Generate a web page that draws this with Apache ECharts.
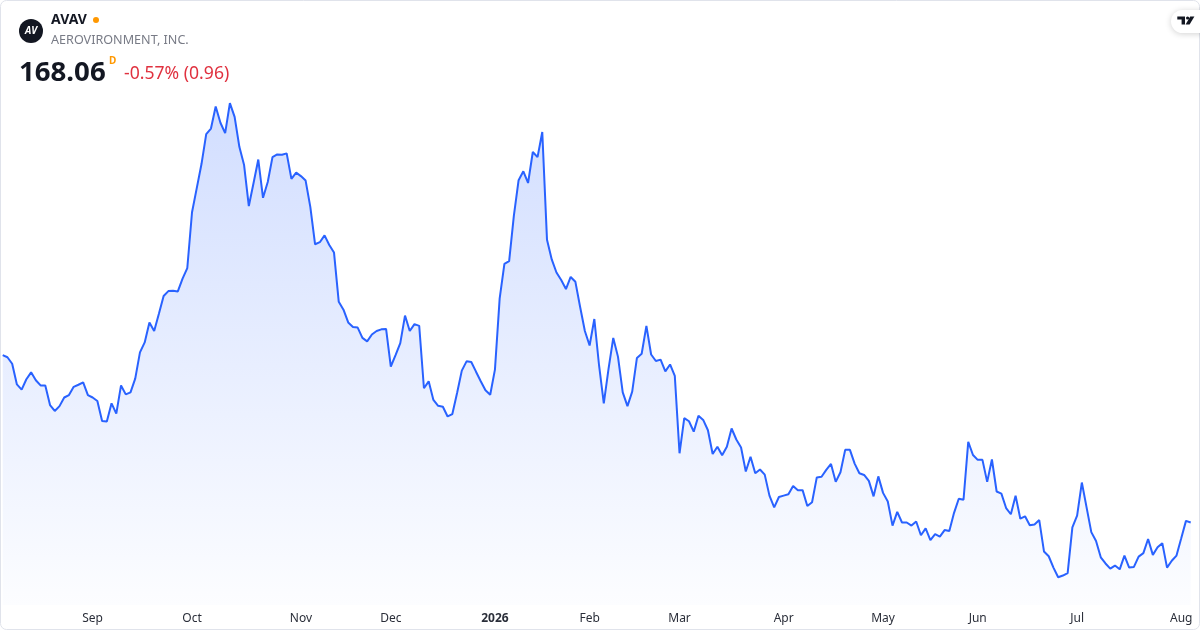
<!DOCTYPE html>
<html><head><meta charset="utf-8">
<script src="https://cdn.jsdelivr.net/npm/echarts@6/dist/echarts.min.js"></script>
<style>html,body{margin:0;padding:0;background:#fff}#c{width:1200px;height:630px}</style>
</head><body><div id="c"></div>
<script>
// Daily closes, one small array per month
const pricesAug2025 = [267.27,266.05,262.17,249.92,246.86,252.98,257.07,252.37,249.31,249.31,237.67,234.20,237.06,242.16,243.59,248.49,249.72,251.15,243.59];
const pricesSep2025 = [242.16,240.12,228.28,227.87,238.69,232.57,249.31,244.00,245.23,253.39,268.91,274.83,286.67,281.56,291.77,302.38,305.24,305.45,305.04,312.59,318.92];
const pricesOct2025 = [351.99,366.28,380.57,398.33,401.60,414.66,405.07,398.94,416.70,408.54,390.78,379.96,355.66,369.34,383.22,360.56,369.95,384.65,386.29,386.08,386.90,371.79,375.47];
const pricesNov2025 = [373.42,370.77,355.05,333.01,334.23,338.31,332.60,328.11,298.91,294.22,286.67,284.01,283.60,277.48,275.44,279.52,281.56,282.58,282.79];
const pricesDec2025 = [260.54,267.27,274.42,290.75,281.56,285.64,284.62,247.67,251.76,240.73,237.26,236.65,230.94,232.36,244.82,258.09,263.60,263.19,257.47,251.76,246.45,243.80];
const pricesJan2026 = [258.70,300.96,321.37,323.00,349.95,370.98,376.28,369.34,387.71,384.65,399.55,335.66,324.02,316.27,311.77,306.47,313.61,310.75,295.85,281.56];
const pricesFeb2026 = [272.99,288.71,261.15,238.69,259.11,277.48,266.25,245.23,237.06,245.63,265.64,268.09,284.62,267.68,263.80,264.62,257.68,261.76,255.02];
const pricesMar2026 = [209.09,229.91,228.08,221.95,231.34,228.89,222.77,208.68,212.97,207.87,212.97,223.79,217.26,212.56,198.27,207.05,197.25,199.50,196.44,183.98,177.04,183.17];
const pricesApr2026 = [183.98,184.80,189.70,187.25,187.25,177.86,180.10,194.80,195.21,199.29,202.76,192.15,197.86,211.13,211.13,202.97,197.25,196.23,192.76,183.57,195.41];
const pricesMay2026 = [185.62,180.51,166.22,174.39,168.06,168.06,166.22,168.67,160.51,164.59,157.65,161.12,159.69,163.57,162.96,173.78,182.15,181.53,215.83,208.07];
const pricesJun2026 = [205.21,205.21,192.15,205.42,186.43,185.21,176.63,172.96,183.98,170.31,171.73,166.43,166.84,169.49,150.91,148.05,141.32,135.60,136.62,138.05,165.20];
const pricesJul2026 = [172.14,191.74,177.04,162.34,157.04,147.44,143.77,140.71,142.54,140.30,148.46,141.32,141.73,147.85,149.89,158.26,148.87,153.36,155.81,141.32,145.40,148.46];
const pricesAug2026 = [158.67,169.02,168.06];

const firstTradingDay = '2025-08-05';
const marketHolidays = ['2025-09-01','2025-11-27','2025-12-25','2026-01-01','2026-01-19','2026-02-16','2026-04-03','2026-05-25','2026-06-19','2026-07-03'];
const monthTickLabels = ['2026','Feb','Mar','Apr','May','Jun','Jul','Aug','Sep','Oct','Nov','Dec'];

const prices = [].concat(pricesAug2025,pricesSep2025,pricesOct2025,pricesNov2025,pricesDec2025,
  pricesJan2026,pricesFeb2026,pricesMar2026,pricesApr2026,pricesMay2026,pricesJun2026,pricesJul2026,pricesAug2026);

// trading-day categories
const dates = [];
{
  let t = Date.parse(firstTradingDay + 'T00:00:00Z');
  while (dates.length < prices.length) {
    const d = new Date(t);
    const s = d.toISOString().slice(0,10);
    const wd = d.getUTCDay();
    if (wd !== 0 && wd !== 6 && marketHolidays.indexOf(s) < 0) dates.push(s);
    t += 86400000;
  }
}
const isMonthStart = dates.map((d,i) => i > 0 && d.slice(5,7) !== dates[i-1].slice(5,7));

const chart = echarts.init(document.getElementById('c'), null, {renderer:'canvas'});
const FONT = '"Noto Sans", "Open Sans", sans-serif';
chart.setOption({
  animation: false,
  backgroundColor: '#ffffff',
  grid: {left: 2.7, right: 9.3, top: 60, bottom: 25, containLabel: false},
  xAxis: {
    type: 'category', data: dates, boundaryGap: false,
    axisLine: {show: false}, axisTick: {show: false}, splitLine: {show: false},
    axisLabel: {
      interval: (idx) => isMonthStart[idx],
      margin: 8,
      color: '#2a2e39', fontSize: 12, fontFamily: FONT,
      formatter: (val) => {
        const m = parseInt(val.slice(5,7), 10) - 1;
        return m === 0 ? '{y|' + val.slice(0,4) + '}' : monthTickLabels[m];
      },
      rich: {y: {fontWeight: 'bold', fontSize: 12, color: '#2a2e39', fontFamily: FONT}}
    }
  },
  yAxis: {type: 'value', show: false, min: 119.15, max: 442.25, splitLine: {show: false}},
  series: [{
    type: 'line', data: prices, showSymbol: false, symbol: 'none',
    lineStyle: {color: '#2962ff', width: 2},
    areaStyle: {color: new echarts.graphic.LinearGradient(0,0,0,1,[
      {offset: 0, color: 'rgba(41,98,255,0.30)'},
      {offset: 1, color: 'rgba(41,98,255,0.02)'}
    ])}
  }],
  graphic: [
    {type: 'rect', shape: {x: 0.5, y: 0.5, width: 1199, height: 629, r: 6}, style: {fill: 'none', stroke: '#e0e3eb', lineWidth: 1}, silent: true, z: 100},
    {type: 'circle', shape: {cx: 31, cy: 31, r: 12}, style: {fill: '#131722'}, z: 100},
    {type: 'text', x: 31, y: 31, style: {text: 'AV', fill: '#fff', font: 'italic bold 10px ' + FONT, textAlign: 'center', textVerticalAlign: 'middle'}, z: 101},
    {type: 'text', x: 51, y: 20, style: {text: 'AVAV', fill: '#131722', font: 'bold 14px ' + FONT, textVerticalAlign: 'middle'}, z: 100},
    {type: 'circle', shape: {cx: 96, cy: 20, r: 3}, style: {fill: '#ff9800'}, z: 100},
    {type: 'text', x: 51, y: 40, style: {text: 'AEROVIRONMENT, INC.', fill: '#787b86', font: '12.6px ' + FONT, textVerticalAlign: 'middle'}, z: 100},
    {type: 'text', x: 19, y: 73, style: {text: '168.06', fill: '#131722', font: 'bold 27.6px ' + FONT, textVerticalAlign: 'middle'}, z: 100},
    {type: 'text', x: 109, y: 61, style: {text: 'D', fill: '#ff9800', font: 'bold 10px ' + FONT, textVerticalAlign: 'middle'}, z: 100},
    {type: 'text', x: 124, y: 74, style: {text: '-0.57% (0.96)', fill: '#e0313f', font: '17.6px ' + FONT, textVerticalAlign: 'middle'}, z: 100},
    {type: 'rect', shape: {x: 1171, y: 10, width: 44, height: 23, r: 11.5}, style: {fill: '#fff', shadowBlur: 6, shadowColor: 'rgba(0,0,0,0.18)', shadowOffsetY: 1}, z: 100},
    {type: 'polygon', shape: {points: [[1177.3,16.5],[1185,16.5],[1185,24.5],[1181.6,24.5],[1181.6,19.6],[1177.3,19.6]]}, style: {fill: '#131722'}, z: 101},
    {type: 'circle', shape: {cx: 1187.6, cy: 18, r: 1.6}, style: {fill: '#131722'}, z: 101},
    {type: 'polygon', shape: {points: [[1190.2,16.5],[1194.4,16.5],[1189.6,24.5],[1185.6,24.5]]}, style: {fill: '#131722'}, z: 101}
  ]
});
</script>
</body></html>
